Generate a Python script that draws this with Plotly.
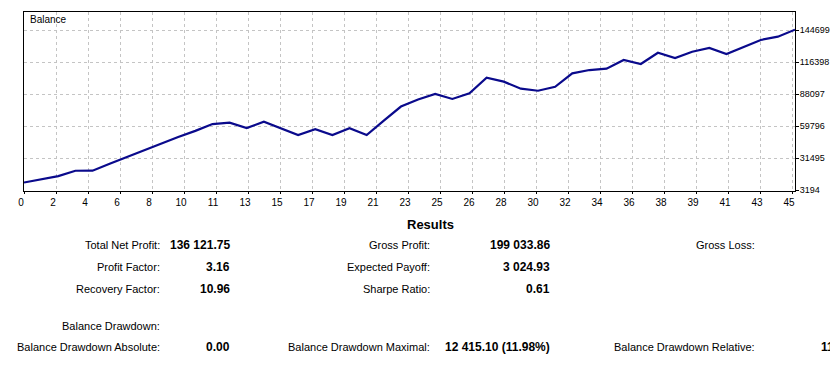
import plotly.graph_objects as go

# ---- data ----
trade_no = list(range(46))
balance = [9800, 12500, 15500, 20200, 20300, 26500, 32500, 38000, 44000, 50000,
           55500, 61500, 62700, 58000, 63600, 57700, 51800, 56900, 51800, 57800,
           51800, 64600, 77000, 83200, 88100, 83700, 88700, 102500, 99000, 92800,
           91000, 94500, 106400, 109300, 110500, 118200, 114600, 124600, 119900, 125500,
           128800, 123500, 129400, 135900, 138800, 145000]

x_tick_labels = ["0", "2", "4", "6", "8", "10", "11", "13", "15", "17", "19", "21", "23",
                 "25", "26", "28", "30", "32", "34", "36", "38", "39", "41", "43", "45"]
y_tick_vals = [3194, 31495, 59796, 88097, 116398, 144699]
y_tick_labels = ["3194", "31495", "59796", "88097", "116398", "144699"]

stats_left = [("Total Net Profit:", "136 121.75"), ("Profit Factor:", "3.16"),
              ("Recovery Factor:", "10.96")]
stats_mid = [("Gross Profit:", "199 033.86"), ("Expected Payoff:", "3 024.93"),
             ("Sharpe Ratio:", "0.61")]
stats_right = [("Gross Loss:", "")]
drawdown_row = [("Balance Drawdown Absolute:", "0.00"),
                ("Balance Drawdown Maximal:", "12 415.10 (11.98%)"),
                ("Balance Drawdown Relative:", "11.98% (12 415.10)")]

W, H = 830, 371
L, R, T, B = 24, 35, 12, 180
FONT = "Liberation Sans"

step = 45 * 32 / 771
x_tick_vals = [i * step for i in range(len(x_tick_labels))]

fig = go.Figure()
fig.add_trace(go.Scatter(x=trade_no, y=balance, mode="lines",
                         line=dict(color="#0a0a8c", width=2.2), hoverinfo="skip"))

fig.update_layout(
    width=W, height=H, margin=dict(l=L, r=R, t=T, b=B, pad=0, autoexpand=False),
    paper_bgcolor="white", plot_bgcolor="white", showlegend=False,
    font=dict(family=FONT, size=10, color="black"),
)
fig.update_xaxes(range=[0, 45], tickvals=x_tick_vals, ticktext=x_tick_labels,
                 showgrid=True, gridcolor="#c4c4c4", griddash="3px,3px", gridwidth=1,
                 showline=True, linecolor="black", linewidth=1, mirror=True,
                 ticks="outside", ticklen=2, tickcolor="black", zeroline=False,
                 tickfont=dict(size=10, family=FONT), ticklabelshift=-3, automargin=False)
fig.update_yaxes(range=[2310, 160618], tickvals=y_tick_vals, ticktext=y_tick_labels,
                 side="right",
                 showgrid=True, gridcolor="#c4c4c4", griddash="3px,3px", gridwidth=1,
                 showline=True, linecolor="black", linewidth=1, mirror=True,
                 ticks="outside", ticklen=3, tickcolor="black", zeroline=False,
                 tickfont=dict(size=9, family=FONT), ticklabelstandoff=-1,
                 automargin=False)

ann = []
def px(x, y, text, anchor="right", bold=False, size=11):
    ann.append(dict(xref="paper", yref="paper",
                    x=(x - L) / (W - L - R), y=1 - (y - T) / (H - T - B),
                    text=("<b>%s</b>" % text) if bold else text, showarrow=False,
                    xanchor=anchor, yanchor="middle",
                    font=dict(family=FONT, size=size, color="black")))

px(28, 20, "Balance", anchor="left", size=10)
px(430, 225, "Results", anchor="center", bold=True, size=13)

rows_y = [245, 267, 289]
for (lab, val), y in zip(stats_left, rows_y):
    px(162, y, lab)
    px(232, y, val, bold=True, size=12)
for (lab, val), y in zip(stats_mid, rows_y):
    px(432, y, lab)
    px(552, y, val, bold=True, size=12)
for (lab, val), y in zip(stats_right, rows_y):
    px(757, y, lab)

px(162, 326, "Balance Drawdown:")
xs_lab = [162, 432, 757]
xs_val = [232, 552, None]
for (lab, val), xl, xv in zip(drawdown_row, xs_lab, xs_val):
    px(xl, 347, lab)
    if xv is not None:
        px(xv, 347, val, bold=True, size=12)
    else:
        px(819, 347, val, anchor="left", bold=True, size=12)

fig.update_layout(annotations=ann)
fig.write_html("out.html", config={"displayModeBar": False},
               post_script="document.body.style.margin='0';document.body.style.overflow='hidden';")
